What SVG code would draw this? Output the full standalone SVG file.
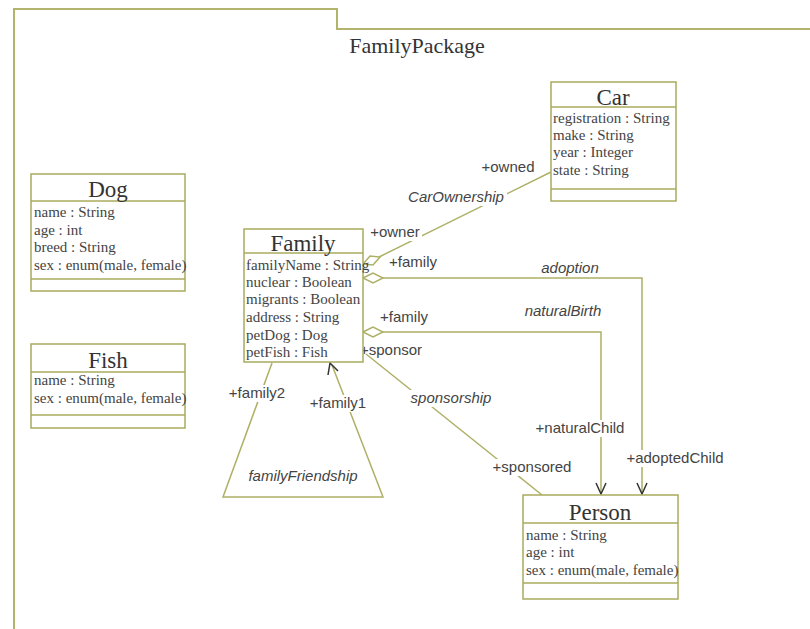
<svg xmlns="http://www.w3.org/2000/svg" width="810" height="629" viewBox="0 0 810 629">
  <style>
    .frame { fill: none; stroke: #b2b46e; stroke-width: 2; }
    .box { fill: #ffffff; stroke: #a9ab5c; stroke-width: 1.5; }
    .div { stroke: #a9ab5c; stroke-width: 1.5; }
    .edge { fill: none; stroke: #aeb066; stroke-width: 1.5; }
    .diamond { fill: #ffffff; stroke: #aeb066; stroke-width: 1.5; }
    .head { fill: none; stroke: #333333; stroke-width: 1.5; }
    .title { font-family: "Liberation Serif", "Times New Roman", serif; font-size: 23px; fill: #333333; text-anchor: middle; }
    .attr { font-family: "Liberation Serif", "Times New Roman", serif; font-size: 15px; fill: #444444; }
    .pkg { font-family: "Liberation Serif", "Times New Roman", serif; font-size: 22px; fill: #333333; text-anchor: middle; }
    .lbl { font-family: "Liberation Sans", Arial, sans-serif; font-size: 15px; fill: #444444; text-anchor: middle; }
    .assoc { font-family: "Liberation Sans", Arial, sans-serif; font-size: 15px; font-style: italic; fill: #444444; text-anchor: middle; }
    .bg { fill: #ffffff; }
  </style>

  <!-- package frame -->
  <g id="FamilyPackage">
    <path class="frame" d="M14,629 V9 H337 V29 H810"/>
    <text class="pkg" x="417" y="53">FamilyPackage</text>
  </g>

  <!-- connectors -->
  <g id="connectors">
    <!-- CarOwnership -->
    <line class="edge" x1="379" y1="257" x2="551" y2="172"/>
    <polygon class="diamond" points="363,264 370,256 380,257 373,265"/>
    <!-- adoption -->
    <polyline class="edge" points="383,278 642,278 642,494"/>
    <polygon class="diamond" points="363,278 373,273 383,278 373,283"/>
    <polyline class="head" points="637,483 642,494 647,483"/>
    <!-- naturalBirth -->
    <polyline class="edge" points="383,332 601,332 601,494"/>
    <polygon class="diamond" points="363,332 373,327 383,332 373,337"/>
    <polyline class="head" points="596,483 601,494 606,483"/>
    <!-- sponsorship -->
    <line class="edge" x1="366" y1="354" x2="542" y2="495"/>
    <!-- familyFriendship -->
    <polyline class="edge" points="272,363 223,497 383,497 332,365"/>
    <polyline class="head" points="328,375 330,363 338,371"/>

    <!-- role and association labels -->
    <rect class="bg" x="478" y="159" width="60" height="17"/>
    <text class="lbl" x="508" y="172">+owned</text>
    <rect class="bg" x="405" y="189" width="102" height="17"/>
    <text class="assoc" x="456" y="202">CarOwnership</text>
    <rect class="bg" x="368" y="224" width="54" height="17"/>
    <text class="lbl" x="395" y="237">+owner</text>
    <text class="lbl" x="413" y="267">+family</text>
    <rect class="bg" x="538" y="260" width="64" height="17"/>
    <text class="assoc" x="570" y="273">adoption</text>
    <text class="assoc" x="563" y="316">naturalBirth</text>
    <text class="lbl" x="404" y="322">+family</text>
    <text class="lbl" x="391" y="355">+sponsor</text>
    <rect class="bg" x="408" y="390" width="86" height="17"/>
    <text class="assoc" x="451" y="403">sponsorship</text>
    <rect class="bg" x="531" y="420" width="98" height="17"/>
    <text class="lbl" x="580" y="433">+naturalChild</text>
    <rect class="bg" x="623" y="450" width="104" height="17"/>
    <text class="lbl" x="675" y="463">+adoptedChild</text>
    <rect class="bg" x="490" y="459" width="84" height="17"/>
    <text class="lbl" x="532" y="472">+sponsored</text>
    <rect class="bg" x="226" y="385" width="62" height="17"/>
    <text class="lbl" x="257" y="398">+family2</text>
    <rect class="bg" x="307" y="395" width="62" height="17"/>
    <text class="lbl" x="338" y="408">+family1</text>
    <text class="assoc" x="303" y="481">familyFriendship</text>
  </g>

  <!-- classes -->
  <g id="Dog">
    <rect class="box" x="31" y="174" width="154" height="117"/>
    <line class="div" x1="31" y1="201" x2="185" y2="201"/>
    <line class="div" x1="31" y1="279" x2="185" y2="279"/>
    <text class="title" x="108" y="197">Dog</text>
    <text class="attr" x="34" y="217">name : String</text>
    <text class="attr" x="34" y="235">age : int</text>
    <text class="attr" x="34" y="252">breed : String</text>
    <text class="attr" x="34" y="270">sex : enum(male, female)</text>
  </g>

  <g id="Fish">
    <rect class="box" x="31" y="344" width="154" height="84"/>
    <line class="div" x1="31" y1="372" x2="185" y2="372"/>
    <line class="div" x1="31" y1="415" x2="185" y2="415"/>
    <text class="title" x="108" y="368">Fish</text>
    <text class="attr" x="34" y="385">name : String</text>
    <text class="attr" x="34" y="403">sex : enum(male, female)</text>
  </g>

  <g id="Car">
    <rect class="box" x="551" y="82" width="125" height="119"/>
    <line class="div" x1="551" y1="107" x2="676" y2="107"/>
    <line class="div" x1="551" y1="189" x2="676" y2="189"/>
    <text class="title" x="613" y="105">Car</text>
    <text class="attr" x="553" y="123">registration : String</text>
    <text class="attr" x="553" y="140">make : String</text>
    <text class="attr" x="553" y="157">year : Integer</text>
    <text class="attr" x="553" y="175">state : String</text>
  </g>

  <g id="Family">
    <rect class="box" x="244" y="229" width="119" height="133"/>
    <line class="div" x1="244" y1="253" x2="363" y2="253"/>
    <text class="title" x="303" y="251">Family</text>
    <text class="attr" x="246" y="270">familyName : String</text>
    <text class="attr" x="246" y="287">nuclear : Boolean</text>
    <text class="attr" x="246" y="304">migrants : Boolean</text>
    <text class="attr" x="246" y="322">address : String</text>
    <text class="attr" x="246" y="340">petDog : Dog</text>
    <text class="attr" x="246" y="357">petFish : Fish</text>
  </g>

  <g id="Person">
    <rect class="box" x="523" y="495" width="155" height="104"/>
    <line class="div" x1="523" y1="523" x2="678" y2="523"/>
    <line class="div" x1="523" y1="583" x2="678" y2="583"/>
    <text class="title" x="600" y="520">Person</text>
    <text class="attr" x="526" y="540">name : String</text>
    <text class="attr" x="526" y="557">age : int</text>
    <text class="attr" x="526" y="575">sex : enum(male, female)</text>
  </g>
</svg>
